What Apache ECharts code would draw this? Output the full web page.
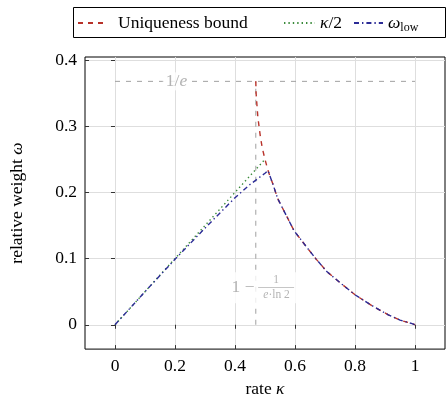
<!DOCTYPE html>
<html>
<head>
<meta charset="utf-8">
<script src="https://cdn.jsdelivr.net/npm/echarts@6/dist/echarts.min.js"></script>
<style>html,body{margin:0;padding:0;background:#fff;}#c{width:447px;height:403px;}</style>
</head>
<body>
<div id="c"></div>
<script>
// ---- data ----
const xTicks = [0, 0.2, 0.4, 0.6, 0.8, 1];
const yTicks = [0, 0.1, 0.2, 0.3, 0.4];
const invE = 0.3679;        // 1/e
const kappaStar = 0.4693;   // 1 - 1/(e ln 2)

const boundKappa = [0.4693,0.4703,0.473,0.476,0.480,0.485,0.491,0.500,0.510,0.526,0.542,0.570,0.597,0.636,0.669,0.707,0.757,0.801,0.856,0.911,0.950,0.988,1.0];
const boundOmega = [0.3679,0.350,0.333,0.315,0.300,0.283,0.267,0.250,0.233,0.213,0.191,0.166,0.142,0.119,0.100,0.080,0.061,0.045,0.029,0.015,0.007,0.002,0];

const halfKappa = [0, 0.5];
const halfOmega = [0, 0.25];

const lowKappa = [0,0.1,0.2,0.3,0.35,0.4,0.45,0.5,0.510,0.526,0.542,0.570,0.597,0.636,0.669,0.707,0.757,0.801,0.856,0.911,0.950,0.988,1.0];
const lowOmega = [0,0.050,0.099,0.146,0.169,0.192,0.212,0.229,0.233,0.213,0.191,0.166,0.142,0.119,0.100,0.080,0.061,0.045,0.029,0.015,0.007,0.002,0];

const zip = (a, b) => a.map((v, i) => [v, b[i]]);

const FONT = 'Liberation Serif';
const GRAY = '#a0a0a0';
const RED = '#b8322a';
const GREEN = '#3a8a3a';
const BLUE = '#2b2b96';

const chart = echarts.init(document.getElementById('c'), null, {renderer: 'canvas'});

const tickCommon = {inside: true, length: 4, lineStyle: {color: '#333', width: 1}};
const legendText = {
  fontFamily: FONT, fontSize: 17.5, color: '#000', padding: [0, 0, 0, 6],
  rich: {
    i: {fontFamily: FONT, fontSize: 17.5, fontStyle: 'italic'},
    r: {fontFamily: FONT, fontSize: 17.5},
    s: {fontFamily: FONT, fontSize: 12, padding: [9, 0, 0, 0]}
  }
};
const legendFmt = n => n === 'κ/2' ? '{i|κ}{r|/2}' : (n === 'ω_low' ? '{i|ω}{s|low}' : n);
const legendCommon = {top: 14, itemHeight: 14, textStyle: legendText, formatter: legendFmt, selectedMode: false,
  itemStyle: {opacity: 0}, padding: 0};

chart.setOption({
  animation: false,
  backgroundColor: '#fff',
  grid: {left: 83, top: 57, width: 362, height: 301, show: true, borderColor: '#000', borderWidth: 1, backgroundColor: 'transparent'},
  graphic: [{
    type: 'rect', shape: {x: 73.5, y: 7.5, width: 372, height: 30},
    style: {fill: '#fff', stroke: '#000', lineWidth: 1}, z: -1
  }],
  legend: [
    Object.assign({left: 77, itemWidth: 29, data: ['Uniqueness bound']}, legendCommon),
    Object.assign({left: 283, itemWidth: 31, data: ['κ/2']}, legendCommon, {textStyle: Object.assign({}, legendText, {padding: [0,0,0,0]})}),
    Object.assign({left: 353, itemWidth: 29, data: ['ω_low']}, legendCommon, {textStyle: Object.assign({}, legendText, {padding: [0,0,0,0]})})
  ],
  xAxis: [{
    type: 'value', min: -0.1, max: 1.1, position: 'bottom',
    axisLine: {show: false, onZero: false},
    axisTick: Object.assign({customValues: xTicks}, tickCommon),
    axisLabel: {customValues: xTicks, fontFamily: FONT, fontSize: 17.5, color: '#000', margin: 8},
    splitLine: {show: true, lineStyle: {color: '#dedede', width: 1}},
    name: 'rate {i|κ}', nameLocation: 'middle', nameGap: 27,
    nameTextStyle: {fontFamily: FONT, fontSize: 17.5, color: '#000', rich: {i: {fontFamily: FONT, fontSize: 17.5, fontStyle: 'italic'}}}
  }, {
    type: 'value', min: -0.1, max: 1.1, position: 'top',
    axisLine: {show: false},
    axisTick: Object.assign({customValues: xTicks}, tickCommon),
    axisLabel: {show: false}, splitLine: {show: false}
  }],
  yAxis: [{
    type: 'value', min: -0.0368, max: 0.4047, position: 'left',
    axisLine: {show: false, onZero: false},
    axisTick: Object.assign({customValues: yTicks}, tickCommon),
    axisLabel: {customValues: yTicks, fontFamily: FONT, fontSize: 17.5, color: '#000', margin: 8},
    splitLine: {show: true, lineStyle: {color: '#dedede', width: 1}},
    name: 'relative weight {i|ω}', nameLocation: 'middle', nameGap: 59,
    nameTextStyle: {fontFamily: FONT, fontSize: 17.5, color: '#000', rich: {i: {fontFamily: FONT, fontSize: 17.5, fontStyle: 'italic'}}}
  }, {
    type: 'value', min: -0.0368, max: 0.4047, position: 'right',
    axisLine: {show: false},
    axisTick: Object.assign({customValues: yTicks}, tickCommon),
    axisLabel: {show: false}, splitLine: {show: false}
  }],
  series: [
    {
      name: 'ref-e', type: 'line', data: [[0, invE], [1, invE]], symbol: 'none', silent: true,
      lineStyle: {color: GRAY, width: 1, type: [5, 6]}, z: 1
    },
    {
      name: 'ref-k', type: 'line', data: [[kappaStar, 0], [kappaStar, invE]], symbol: 'none', silent: true,
      lineStyle: {color: GRAY, width: 1, type: [5, 6]}, z: 1
    },
    {
      name: 'lbl-e', type: 'scatter', data: [[0.205, invE]], symbolSize: 0, silent: true, z: 3,
      label: {
        show: true, position: 'inside', formatter: '{r|1/}{i|e}',
        backgroundColor: '#fff', padding: [0, 3],
        rich: {
          r: {fontFamily: FONT, fontSize: 17.5, color: GRAY},
          i: {fontFamily: FONT, fontSize: 17.5, color: GRAY, fontStyle: 'italic'}
        }
      }
    },
    {
      name: 'lbl-k', type: 'scatter', data: [[0.487, 0.056]], symbolSize: 0, silent: true, z: 3,
      label: {
        show: true, position: 'inside', align: 'center', verticalAlign: 'middle',
        formatter: '{sp|}{n|1}\n{o|1 −}{bar|}\n{sp|}{d|e}{dr|·ln 2}',
        backgroundColor: '#fff', padding: [2, 2],
        rich: {
          sp: {width: 30, lineHeight: 12},
          n: {width: 36, align: 'center', fontFamily: FONT, fontSize: 11.5, color: GRAY, lineHeight: 12},
          o: {width: 30, fontFamily: FONT, fontSize: 17.5, color: GRAY, lineHeight: 3},
          bar: {width: 36, height: 0.8, backgroundColor: GRAY},
          d: {fontFamily: FONT, fontSize: 11.5, color: GRAY, fontStyle: 'italic', lineHeight: 12, padding: [0, 0, 0, 1]},
          dr: {fontFamily: FONT, fontSize: 11.5, color: GRAY, lineHeight: 12}
        }
      }
    },
    {
      name: 'Uniqueness bound', type: 'line', data: zip(boundKappa, boundOmega), symbol: 'none',
      lineStyle: {color: RED, width: 1.4, type: [5, 5]}, itemStyle: {color: RED}, z: 4
    },
    {
      name: 'κ/2', type: 'line', data: zip(halfKappa, halfOmega), symbol: 'none',
      lineStyle: {color: GREEN, width: 1.4, type: [1.4, 3]}, itemStyle: {color: GREEN}, z: 5
    },
    {
      name: 'ω_low', type: 'line', data: zip(lowKappa, lowOmega), symbol: 'none',
      lineStyle: {color: BLUE, width: 1.4, type: [5, 3, 1.4, 3]}, itemStyle: {color: BLUE}, z: 6
    }
  ]
});
</script>
</body>
</html>
